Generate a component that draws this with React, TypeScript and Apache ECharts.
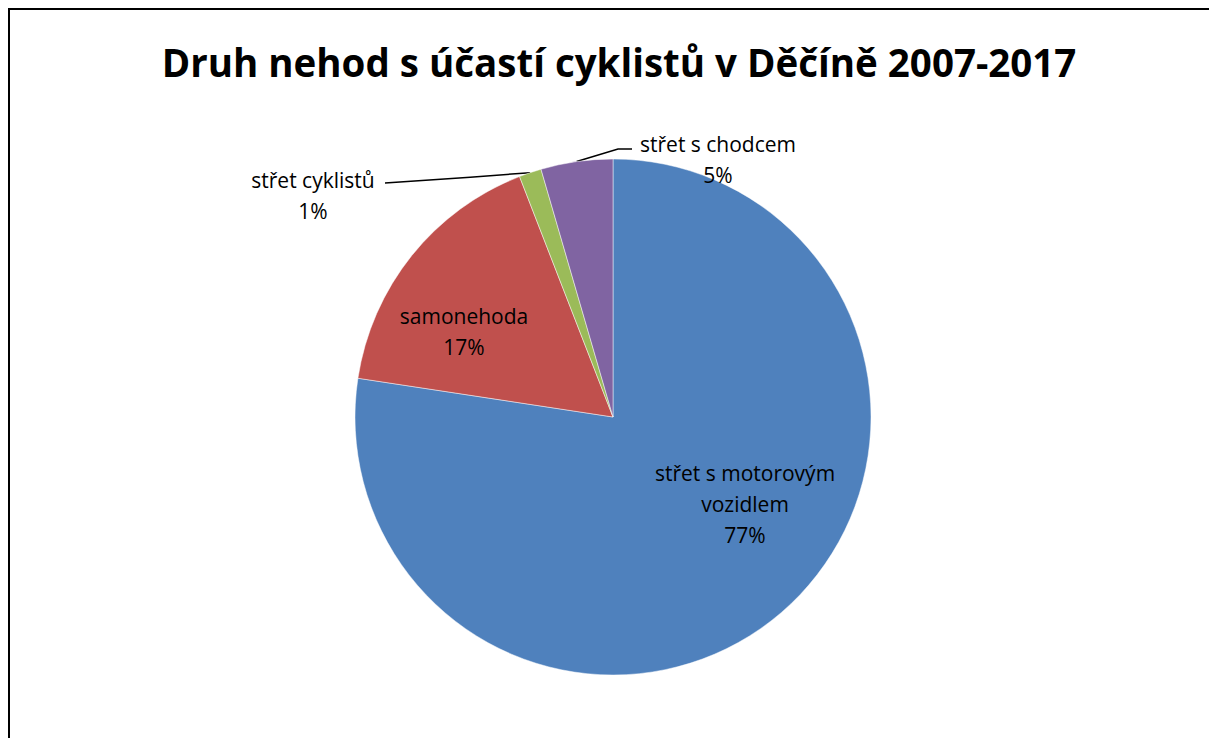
import React, { useEffect, useRef } from "react";
import * as echarts from "echarts";

const titleText = "Druh nehod s účastí cyklistů v Děčíně 2007-2017";
const categories = ["střet s motorovým vozidlem", "samonehoda", "střet cyklistů", "střet s chodcem"];
const values = [77.4, 16.7, 1.4, 4.5];
const colors = ["#4F81BD", "#C0504D", "#9BBB59", "#8064A2"];
// label block centres (text layout only)
const labelCenters: [number, number][] = [
  [745, 504],
  [464, 331],
  [313, 195],
  [718, 159],
];

const CX = 613;
const CY = 417;
const R = 258;

export default function App() {
  const ref = useRef<HTMLDivElement>(null);
  useEffect(() => {
    if (!ref.current) return;
    const chart = echarts.init(ref.current, null, { renderer: "svg" });
    const font = "'Open Sans', 'Noto Sans', sans-serif";
    const total = values.reduce((a, b) => a + b, 0);
    const edgePoint = (idx: number): [number, number] => {
      let before = 0;
      for (let i = 0; i < idx; i++) before += values[i];
      const mid = ((before + values[idx] / 2) / total) * Math.PI * 2;
      return [CX + R * Math.sin(mid), CY - R * Math.cos(mid)];
    };
    chart.setOption({
      animation: false,
      backgroundColor: "#ffffff",
      title: {
        text: titleText,
        left: 614,
        textAlign: "center",
        top: 37,
        textStyle: { fontFamily: font, fontWeight: "bold", fontSize: 38.5, color: "#000" },
      },
      graphic: [
        {
          type: "rect",
          shape: { x: 9, y: 9, width: 3000, height: 3000 },
          style: { fill: "none", stroke: "#000", lineWidth: 2 },
          silent: true,
        },
      ],
      series: [
        {
          type: "pie",
          center: [CX, CY],
          radius: [0, R],
          startAngle: 90,
          clockwise: true,
          avoidLabelOverlap: false,
          itemStyle: { borderColor: "rgba(255,255,255,0.6)", borderWidth: 0.8 },
          label: {
            fontFamily: font,
            fontSize: 21,
            color: "#000",
            lineHeight: 31,
            align: "center",
            formatter: (p: any) =>
              p.name.replace("motorovým ", "motorovým\n") + "\n" + Math.round(p.percent) + "%",
          },
          labelLine: { lineStyle: { color: "#000", width: 1.5 }, length: 15, length2: 20 },
          labelLayout: (p: any) => {
            const i = p.dataIndex;
            const c = labelCenters[i];
            const out: any = { x: c[0], y: c[1], align: "center", verticalAlign: "middle" };
            if (i === 2) {
              const e = edgePoint(i);
              out.labelLinePoints = [e, [e[0] - 60, e[1] + 4.5], [385, 183]];
            } else if (i === 3) {
              const e = edgePoint(i);
              out.labelLinePoints = [e, [618, 149], [632, 149]];
            }
            return out;
          },
          data: categories.map((name, i) => ({
            name,
            value: values[i],
            itemStyle: { color: colors[i] },
            label: { position: i < 2 ? "inside" : "outside" },
            labelLine: { show: i >= 2 },
          })),
        },
      ],
    });
    return () => chart.dispose();
  }, []);
  return (
    <div
      ref={ref}
      style={{ position: "fixed", left: 0, top: 0, width: 1209, height: 738 }}
    />
  );
}
